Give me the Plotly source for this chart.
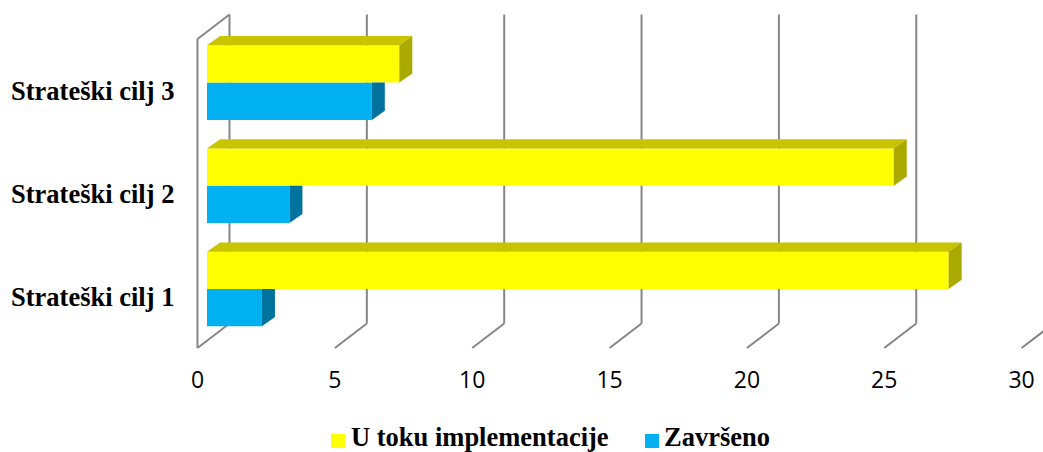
import plotly.graph_objects as go

categories = ["Strateški cilj 1", "Strateški cilj 2", "Strateški cilj 3"]
zavrseno = [2, 3, 6]
u_toku = [27, 25, 7]
x_ticks = [0, 5, 10, 15, 20, 25, 30]
positions = list(range(len(categories)))

W, H = 1043, 452
PLOT_BOTTOM = 352
X0_PX, PX_PER_X = 197.5, 27.47
Y0_PX, PX_PER_Y = 289.0, 103.2

x_range = [-X0_PX / PX_PER_X, (W - X0_PX) / PX_PER_X]
y_range = [(Y0_PX - PLOT_BOTTOM) / PX_PER_Y, Y0_PX / PX_PER_Y]

def px_y(py):
    return (Y0_PX - py) / PX_PER_Y

def paper_x(px):
    return px / W

def paper_y(py):
    return (PLOT_BOTTOM - py) / PLOT_BOTTOM

BASE = 9.5 / PX_PER_X          # bars stand off the wall
DX = 13 / PX_PER_X             # depth of the box, horizontally
DY = 9.2 / PX_PER_Y            # depth of the box, vertically
BAR_H = 37.3 / PX_PER_Y
WALL_DX = 32 / PX_PER_X
WALL_DY = 24.5 / PX_PER_Y

GRID = "#868686"
YEL, YEL_TOP, YEL_SIDE = "#FFFF00", "#C8C400", "#A9A900"
BLU, BLU_SIDE = "#00B0F0", "#00729E"
LABEL_FONT = "Liberation Serif"

fig = go.Figure()

fig.add_bar(y=positions, x=zavrseno, base=BASE, orientation="h", name="Završeno",
            marker=dict(color=BLU, line=dict(width=0)))
fig.add_bar(y=positions, x=u_toku, base=BASE, orientation="h", name="U toku implementacije",
            marker=dict(color=YEL, line=dict(width=0)))

def poly(xs, ys, color):
    fig.add_scatter(x=xs + xs[:1], y=ys + ys[:1], mode="lines", fill="toself", fillcolor=color,
                    line=dict(width=0, color=color), hoverinfo="skip", showlegend=False)

for i, (b, y) in zip(positions, zip(zavrseno, u_toku)):
    r = BASE + b
    # blue side; its upper part is hidden by the yellow box in front of it
    poly([r, r + DX, r + DX, r], [i, i, i - BAR_H + DY, i - BAR_H], BLU_SIDE)
    r = BASE + y
    top = i + BAR_H
    poly([BASE, BASE + DX, r + DX, r], [top, top + DY, top + DY, top], YEL_TOP)
    poly([r, r + DX, r + DX, r], [top, top + DY, i + DY, i], YEL_SIDE)

front_y, back_y, top_y = px_y(348), px_y(348) + WALL_DY, px_y(14.5)
shapes = []
line = dict(color=GRID, width=2)
for t in x_ticks:
    shapes.append(dict(type="line", layer="below", x0=t, x1=t + WALL_DX, y0=front_y, y1=back_y, line=line))
    shapes.append(dict(type="line", layer="below", x0=t + WALL_DX, x1=t + WALL_DX, y0=back_y, y1=top_y, line=line))
shapes.append(dict(type="line", layer="below", x0=0, x1=0, y0=front_y, y1=top_y - WALL_DY, line=line))
shapes.append(dict(type="line", layer="below", x0=0, x1=WALL_DX, y0=top_y - WALL_DY, y1=top_y, line=line))

# Legend drawn by hand: swatch plus bold label
annotations = []
for label, color, sw_px, text_px in [("U toku implementacije", YEL, 331, 351),
                                     ("Završeno", BLU, 645, 663.5)]:
    shapes.append(dict(type="rect", xref="paper", yref="paper", layer="above",
                       x0=paper_x(sw_px), x1=paper_x(sw_px + 14),
                       y0=paper_y(448), y1=paper_y(434),
                       fillcolor=color, line=dict(width=0)))
    annotations.append(dict(text=label, xref="paper", yref="paper", x=paper_x(text_px),
                            y=paper_y(437), xanchor="left", yanchor="middle", showarrow=False,
                            borderpad=0, borderwidth=0,
                            font=dict(family=LABEL_FONT, size=26.5, color="black", weight="bold")))

fig.update_layout(
    width=W, height=H,
    margin=dict(l=0, r=0, t=0, b=H - PLOT_BOTTOM, autoexpand=False),
    paper_bgcolor="white", plot_bgcolor="white",
    barmode="group", bargap=1 - 2 * BAR_H, bargroupgap=0,
    shapes=shapes, annotations=annotations,
    showlegend=False,
    xaxis=dict(range=x_range, tickmode="array", tickvals=x_ticks, showgrid=False, zeroline=False,
               showline=False, ticks="", ticklabelstandoff=12,
               tickfont=dict(family="Open Sans", size=23, color="black")),
    yaxis=dict(range=y_range, tickmode="array", tickvals=positions, ticktext=categories,
               showgrid=False, zeroline=False, showline=False, ticks="",
               ticklabelposition="inside", ticklabelstandoff=8, ticklabelshift=8,
               tickfont=dict(family=LABEL_FONT, size=26.5, color="black", weight="bold")),
)

fig.write_html("out.html", config={"displayModeBar": False},
               post_script="document.body.style.margin='0';")
